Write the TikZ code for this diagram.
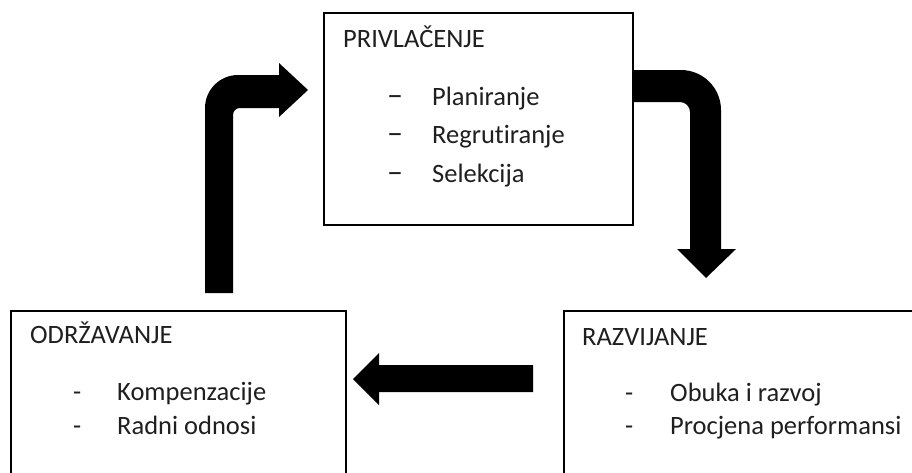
\documentclass[tikz,border=0pt]{standalone}
\usepackage{fontspec}
\setmainfont{Carlito}[Ligatures=NoCommon]
\begin{document}
\begin{tikzpicture}[x=1pt,y=-1pt,
  box/.style={draw=black,line width=1.6pt,anchor=north west,inner sep=0pt},
  txt/.style={anchor=base west,inner sep=0pt,text=black!88,font=\fontsize{26.5}{32}\selectfont},
  dsh/.style={anchor=base west,inner sep=0pt,text=black!88,font=\fontsize{32}{38}\selectfont},
  blockarrow/.style={fill=black,draw=none}]
\useasboundingbox (0,0) rectangle (912,472);
\clip (0,0) rectangle (912,472);
\fill[white] (0,0) rectangle (912,472);
% boxes
\node[box,minimum width=309pt,minimum height=212pt] (privl) at (323,12) {};
\node[box,minimum width=335pt,minimum height=200pt] (odrz) at (10,310) {};
\node[box,minimum width=380pt,minimum height=200pt] (razv) at (563,310) {};
% block arrows
\fill[blockarrow] (205,293) -- (205,108) .. controls (205,89.8) and (219.8,75) .. (238,75)
  -- (279,75) -- (279,63) -- (308,90) -- (279,117) -- (279,108) -- (240,108)
  .. controls (236.1,108) and (233,111.1) .. (233,115) -- (233,293) -- cycle;
\fill[blockarrow] (633,70) -- (681,70) .. controls (703,70) and (721,88) .. (721,110)
  -- (721,249) -- (736,249) -- (706,278) -- (677,249) -- (690,249) -- (690,112)
  .. controls (690,106.5) and (685.5,102) .. (680,102) -- (633,102) -- cycle;
\fill[blockarrow] (533,365) -- (379,365) -- (379,353) -- (353,379) -- (379,405)
  -- (379,392) -- (533,392) -- cycle;
% texts: top
\node[txt] (t1) at (343,47) {PRIVLAČENJE};
\node[dsh] (d11) at (387,105) {–};
\node[txt] (t11) at (432,105) {Planiranje};
\node[dsh] (d12) at (387,143) {–};
\node[txt] (t12) at (432,143) {Regrutiranje};
\node[dsh] (d13) at (387,182) {–};
\node[txt] (t13) at (432,182) {Selekcija};
% bottom left
\node[txt] (t2) at (30,343) {ODRŽAVANJE};
\node[txt] (d21) at (73,400) {-};
\node[txt] (t21) at (117,400) {Kompenzacije};
\node[txt] (d22) at (73,434) {-};
\node[txt] (t22) at (117,434) {Radni odnosi};
% bottom right
\node[txt] (t3) at (582,345) {RAZVIJANJE};
\node[txt] (d31) at (625,401) {-};
\node[txt] (t31) at (670,401) {Obuka i razvoj};
\node[txt] (d32) at (625,434) {-};
\node[txt] (t32) at (670,434) {Procjena performansi};
\end{tikzpicture}
\end{document}
